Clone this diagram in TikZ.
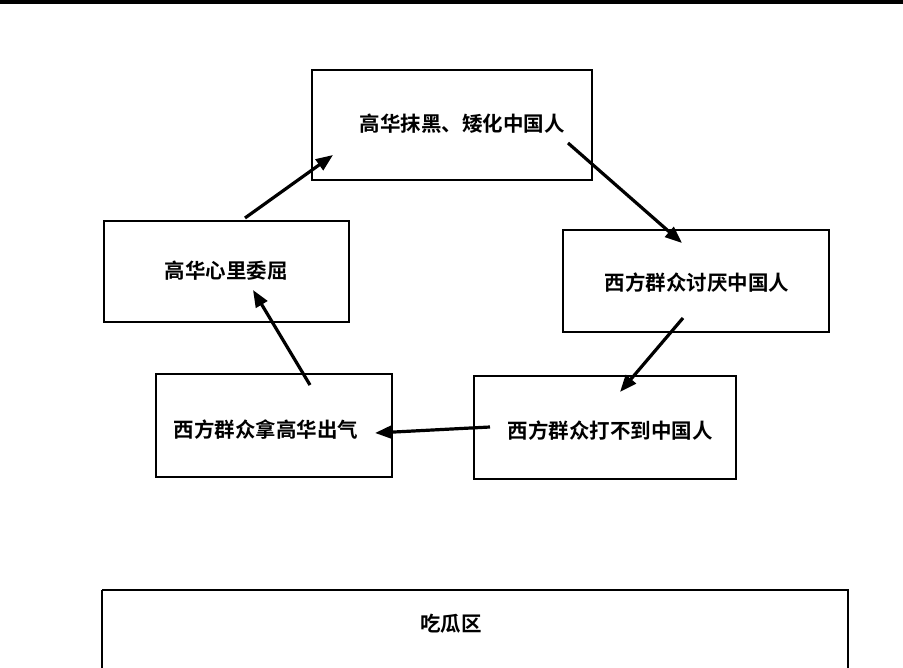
\documentclass[tikz,border=0pt]{standalone}
\usepackage{fontspec}
\newfontfamily\cjk{Noto Sans CJK SC}[BoldFont={* Bold}]
\usetikzlibrary{arrows.meta}
\begin{document}
\begin{tikzpicture}[x=1pt,y=-1pt,
  box/.style={draw,line width=2.2pt,inner sep=0pt},
  lbl/.style={font=\cjk\bfseries\fontsize{20.5}{24}\selectfont},
  arr/.style={line width=3.2pt,-{Triangle[length=17pt,width=13pt]}}]
\useasboundingbox (0,0) rectangle (903,668);
\fill (0,0) rectangle (903,4);
\draw[box] (312,70) rectangle (592,180);
\draw[box] (104,221) rectangle (349,322);
\draw[box] (563,230) rectangle (829,332);
\draw[box] (156,374) rectangle (392,477);
\draw[box] (474,376) rectangle (736,479);
\draw[box] (102,590) -- (102,675) (102,590) -- (848,590) -- (848,675);
\node[lbl] (t) at (462,124) {高华抹黑、矮化中国人};
\node[lbl] (l) at (226,271) {高华心里委屈};
\node[lbl] (r) at (697,283) {西方群众讨厌中国人};
\node[lbl] (bl) at (266,430) {西方群众拿高华出气};
\node[lbl] (br) at (610,431) {西方群众打不到中国人};
\node[lbl] (c) at (451,624) {吃瓜区};
\coordinate (a1) at (245,218); \coordinate (a2) at (333,155);
\coordinate (b1) at (568,143); \coordinate (b2) at (682,243);
\coordinate (c1) at (683,318); \coordinate (c2) at (620,392);
\coordinate (d1) at (490,427); \coordinate (d2) at (375,433);
\coordinate (e1) at (310,385); \coordinate (e2) at (253,290);
\draw[arr] (a1) -- (a2);
\draw[arr] (b1) -- (b2);
\draw[arr] (c1) -- (c2);
\draw[arr] (d1) -- (d2);
\draw[arr] (e1) -- (e2);
\end{tikzpicture}
\end{document}
